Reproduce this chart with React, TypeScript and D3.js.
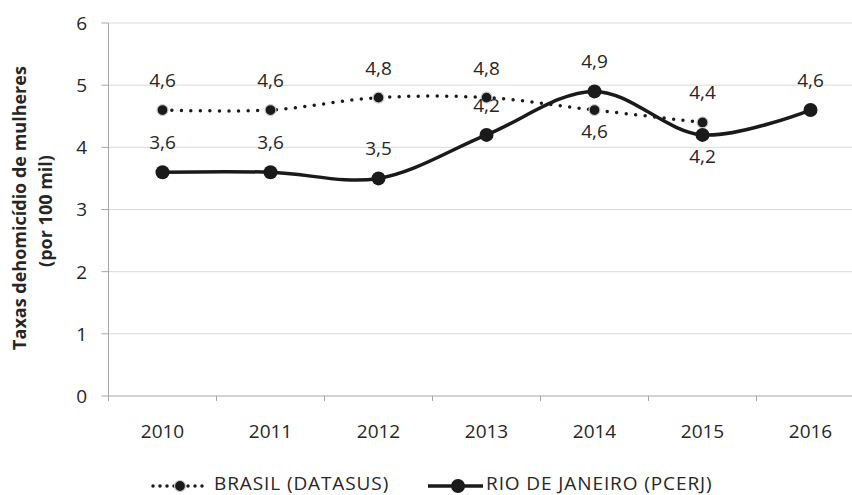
import React from 'react';
import * as d3 from 'd3';

const years = ['2010', '2011', '2012', '2013', '2014', '2015', '2016'];
const brasil = [4.6, 4.6, 4.8, 4.8, 4.6, 4.4];
const rio = [3.6, 3.6, 3.5, 4.2, 4.9, 4.2, 4.6];
const yTicks = [0, 1, 2, 3, 4, 5, 6];
// label below the point for these indices
const brasilBelow = [4];
const rioBelow = [5];

const font = '"Open Sans", sans-serif';
const textColor = '#262626';

const App: React.FC = () => {
  const width = 852;
  const height = 495;
  const left = 108.5;
  const right = 864.5;
  const top = 23;
  const bottom = 396;

  const x = d3.scaleBand<string>().domain(years).range([left, right]);
  const y = d3.scaleLinear().domain([0, 6]).range([bottom, top]);
  const cx = (i: number) => (x(years[i]) as number) + x.bandwidth() / 2;

  const line = d3
    .line<number>()
    .x((_, i) => cx(i))
    .y((d) => y(d))
    .curve(d3.curveCatmullRom.alpha(0.5));

  const fmt = (v: number) => v.toFixed(1).replace('.', ',');

  return (
    <svg width={width} height={height} style={{ position: 'absolute', left: 0, top: 0 }}>
      <rect width={width} height={height} fill="#fff" />
      {yTicks.map((t) => (
        <g key={t}>
          <line x1={left} x2={right} y1={y(t)} y2={y(t)} stroke={t === 0 ? '#a6a6a6' : '#d9d9d9'} strokeWidth={1} />
          <line x1={left - 7} x2={left} y1={y(t)} y2={y(t)} stroke="#a6a6a6" />
          <text x={87} y={y(t)} dy="0.36em" textAnchor="end" fontFamily={font} fontSize={19} fill={textColor}>
            {t}
          </text>
        </g>
      ))}
      <line x1={left} x2={left} y1={top} y2={bottom + 5} stroke="#a6a6a6" />
      {years.map((yr, i) => (
        <g key={yr}>
          {i > 0 && (
            <line x1={x(yr) as number} x2={x(yr) as number} y1={bottom} y2={bottom + 5} stroke="#a6a6a6" />
          )}
          <text x={cx(i)} y={437.5} textAnchor="middle" fontFamily={font} fontSize={19} fill={textColor}>
            {yr}
          </text>
        </g>
      ))}

      <g transform="translate(26,208) rotate(-90)" fontFamily={font} fontWeight="bold" fontSize={18} fill={textColor} textAnchor="middle">
        <text x={0} y={0}>Taxas dehomicídio de mulheres</text>
        <text x={-3} y={26}>(por 100 mil)</text>
      </g>

      <path
        d={line(brasil) || ''}
        fill="none"
        stroke="#1a1a1a"
        strokeWidth={3.5}
        strokeDasharray="0 9.5"
        strokeLinecap="round"
      />
      <path d={line(rio) || ''} fill="none" stroke="#1a1a1a" strokeWidth={3.5} />

      {brasil.map((v, i) => (
        <circle key={'b' + i} cx={cx(i)} cy={y(v)} r={5.5} fill="#1a1a1a" stroke="#cfcfcf" strokeWidth={1.2} />
      ))}
      {rio.map((v, i) => (
        <circle key={'r' + i} cx={cx(i)} cy={y(v)} r={7} fill="#1a1a1a" />
      ))}

      {brasil.map((v, i) => (
        <text
          key={'bl' + i}
          x={cx(i)}
          y={brasilBelow.includes(i) ? y(v) + 28 : y(v) - 23}
          textAnchor="middle"
          fontFamily={font}
          fontSize={19}
          fill={textColor}
        >
          {fmt(v)}
        </text>
      ))}
      {rio.map((v, i) => (
        <text
          key={'rl' + i}
          x={cx(i)}
          y={rioBelow.includes(i) ? y(v) + 28 : y(v) - 23}
          textAnchor="middle"
          fontFamily={font}
          fontSize={19}
          fill={textColor}
        >
          {fmt(v)}
        </text>
      ))}

      <g fontFamily={font} fontSize={19} fill={textColor} letterSpacing={0.9}>
        <line x1={153} x2={205} y1={486} y2={486} stroke="#1a1a1a" strokeWidth={3.5} strokeDasharray="0 7" strokeLinecap="round" />
        <circle cx={180} cy={486} r={5.5} fill="#1a1a1a" stroke="#cfcfcf" strokeWidth={1.2} />
        <text x={214} y={490}>BRASIL (DATASUS)</text>
        <line x1={428} x2={483} y1={486} y2={486} stroke="#1a1a1a" strokeWidth={3.5} />
        <circle cx={458} cy={486} r={7} fill="#1a1a1a" />
        <text x={486} y={490}>RIO DE JANEIRO (PCERJ)</text>
      </g>
    </svg>
  );
};

export default App;
